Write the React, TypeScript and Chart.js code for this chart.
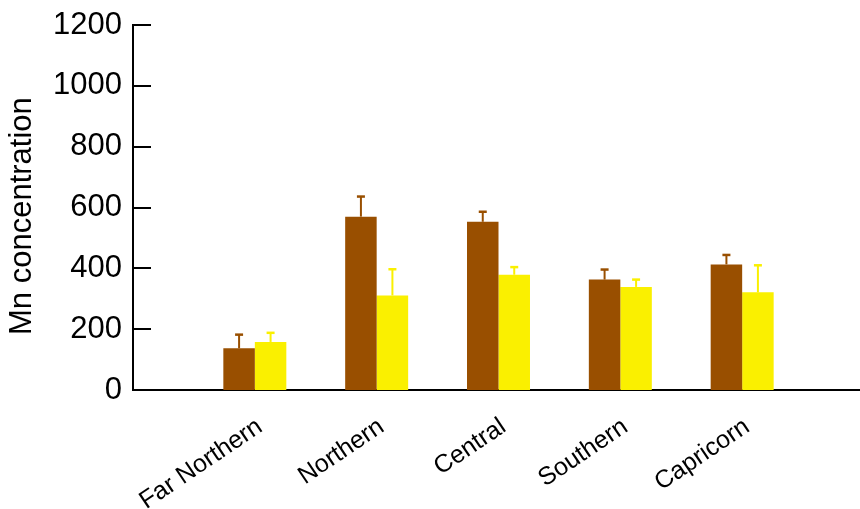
import React, { useEffect, useRef } from 'react';
import { Chart, registerables } from 'chart.js';

Chart.register(...registerables);

// Padding categories ('' at both ends) keep the first group one slot in from the axis
const categories = ['', 'Far Northern', 'Northern', 'Central', 'Southern', 'Capricorn', ''];
const seriesA = [null, 137, 570, 553, 363, 413, null];
const errorsA = [null, 45, 66, 33, 33, 31, null];
const seriesB = [null, 158, 311, 379, 339, 321, null];
const errorsB = [null, 30, 86, 25, 24, 89, null];
const yTickValues = [0, 200, 400, 600, 800, 1000, 1200];
const yTitle = 'Mn concentration  ';

const colorA = '#994F00';
const colorB = '#FAF000';
const FONT = "'Liberation Sans', Arial, sans-serif";

const errorSets = [errorsA, errorsB];

const errorBarPlugin = {
  id: 'errorBars',
  afterDatasetsDraw(chart: any) {
    const ctx = chart.ctx;
    const yScale = chart.scales.y;
    chart.data.datasets.forEach((ds: any, di: number) => {
      const meta = chart.getDatasetMeta(di);
      const errs = errorSets[di];
      meta.data.forEach((bar: any, i: number) => {
        const v = ds.data[i];
        const e = errs[i];
        if (v == null || e == null) return;
        const top = yScale.getPixelForValue(v + e);
        ctx.save();
        ctx.strokeStyle = ds.backgroundColor;
        ctx.lineWidth = 2;
        ctx.beginPath();
        ctx.moveTo(bar.x, bar.y);
        ctx.lineTo(bar.x, top);
        ctx.stroke();
        ctx.lineWidth = 2.5;
        ctx.beginPath();
        ctx.moveTo(bar.x - 4, top);
        ctx.lineTo(bar.x + 4, top);
        ctx.stroke();
        ctx.restore();
      });
    });
  },
};

const innerTicksPlugin = {
  id: 'innerTicks',
  afterDraw(chart: any) {
    const ctx = chart.ctx;
    const yScale = chart.scales.y;
    const left = chart.chartArea.left;
    ctx.save();
    ctx.strokeStyle = '#000';
    ctx.lineWidth = 2;
    ctx.beginPath();
    yTickValues.forEach((v) => {
      if (v === 0) return;
      const py = Math.round(yScale.getPixelForValue(v));
      ctx.moveTo(left, py);
      ctx.lineTo(left + 18, py);
    });
    ctx.stroke();
    ctx.restore();
  },
};

// nudge the rotated category labels slightly to the right
const labelShiftPlugin = {
  id: 'labelShift',
  beforeDraw(chart: any) {
    const xs = chart.scales.x;
    if (!xs || !xs.getLabelItems) return;
    const items = xs.getLabelItems(chart.chartArea);
    items.forEach((it: any) => {
      if (it.__shifted) return;
      if (it.options && it.options.translation) {
        it.options.translation[0] += 5;
      }
      it.__shifted = true;
    });
  },
};

export default function App() {
  const ref = useRef<HTMLCanvasElement | null>(null);

  useEffect(() => {
    if (!ref.current) return;
    const chart = new Chart(ref.current, {
      type: 'bar',
      data: {
        labels: categories,
        datasets: [
          {
            label: 'Series 1',
            data: seriesA,
            backgroundColor: colorA,
            borderWidth: 0,
            categoryPercentage: 0.517,
            barPercentage: 1,
          },
          {
            label: 'Series 2',
            data: seriesB,
            backgroundColor: colorB,
            borderWidth: 0,
            categoryPercentage: 0.517,
            barPercentage: 1,
          },
        ],
      },
      options: {
        responsive: false,
        animation: false,
        devicePixelRatio: 1,
        layout: { padding: { left: 0, right: 6, top: 25, bottom: 0 } },
        plugins: {
          legend: { display: false },
          tooltip: { enabled: false },
        },
        scales: {
          x: {
            offset: false,
            grid: { display: false, drawTicks: false, offset: false },
            border: { display: true, color: '#000', width: 2 },
            ticks: {
              autoSkip: false,
              minRotation: 34,
              maxRotation: 34,
              padding: 13,
              color: '#000',
              font: { family: FONT, size: 25, lineHeight: 2.08 },
            },
            afterFit: (scale: any) => {
              scale.height = 119;
              scale.paddingLeft = 0;
              scale.paddingRight = 0;
            },
          },
          y: {
            min: 0,
            max: 1200,
            afterBuildTicks: (scale: any) => {
              scale.ticks = yTickValues.map((v) => ({ value: v }));
            },
            grid: { display: false, drawTicks: false },
            border: { display: true, color: '#000', width: 2 },
            ticks: {
              padding: 11,
              color: '#000',
              font: { family: FONT, size: 31 },
              callback: (v: any) => String(v),
            },
            title: {
              display: true,
              text: yTitle,
              color: '#000',
              padding: { top: 4, bottom: 0 },
              font: { family: FONT, size: 31 },
            },
            afterFit: (scale: any) => {
              scale.width = 133;
              scale.paddingTop = 0;
              scale.paddingBottom = 0;
            },
          },
        },
      },
      plugins: [errorBarPlugin, innerTicksPlugin, labelShiftPlugin],
    });
    return () => chart.destroy();
  }, []);

  return (
    <div
      style={{
        position: 'absolute',
        left: 0,
        top: 0,
        width: 860,
        height: 509,
        overflow: 'hidden',
        background: '#fff',
      }}
    >
      <canvas ref={ref} width={870} height={509} style={{ width: 870, height: 509, display: 'block' }} />
    </div>
  );
}
